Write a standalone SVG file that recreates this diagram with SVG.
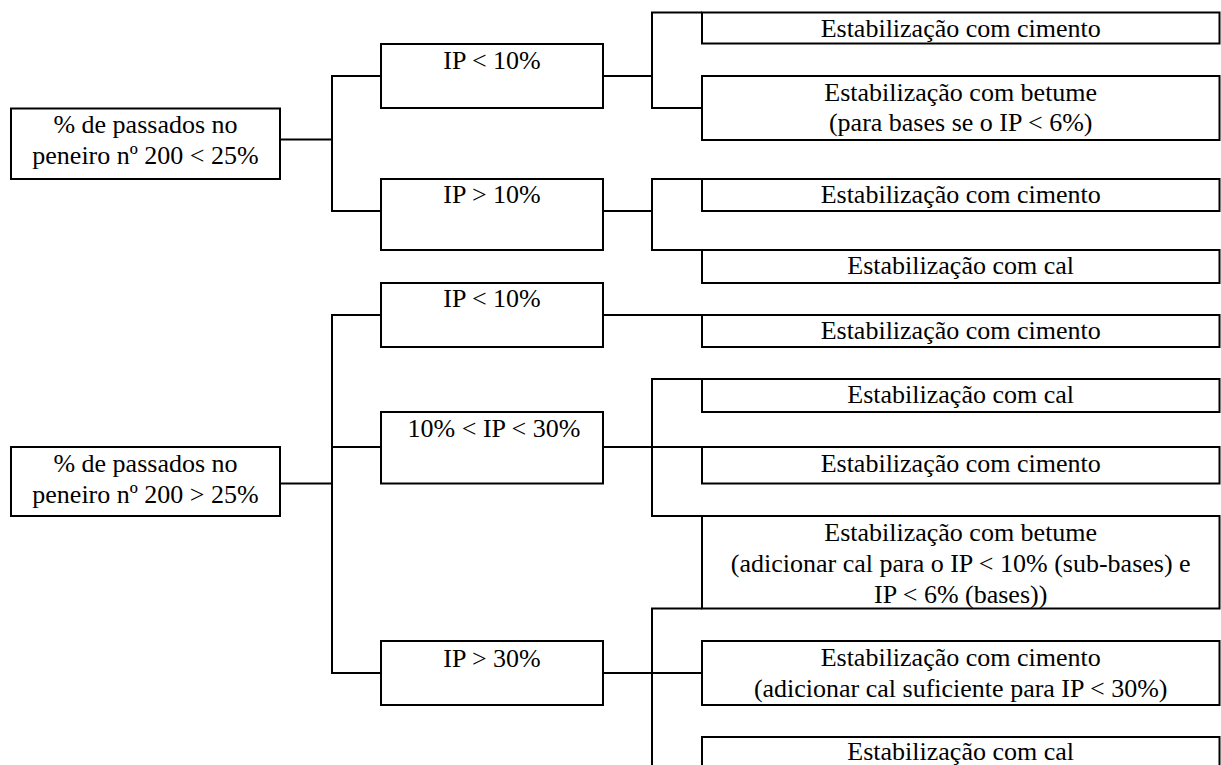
<svg xmlns="http://www.w3.org/2000/svg" width="1221" height="765" viewBox="0 0 1221 765" font-family="'Liberation Serif', 'Times New Roman', 'DejaVu Serif', serif">
<style>
rect{fill:#fff;stroke:#000;stroke-width:2}
line{stroke:#000;stroke-width:2}
text{font-family:'Liberation Serif','Times New Roman','DejaVu Serif',serif;font-size:26px;fill:#000;text-anchor:middle}
</style>
<rect x="0" y="0" width="1221" height="765" style="stroke:none"/>
<g id="connectors">
<line x1="280" y1="139.5" x2="332" y2="139.5"/>
<line x1="332" y1="75.5" x2="332" y2="211"/>
<line x1="331" y1="76" x2="381" y2="76"/>
<line x1="331" y1="211" x2="381" y2="211"/>
<line x1="603" y1="76" x2="652" y2="76"/>
<line x1="652" y1="12.5" x2="652" y2="108"/>
<line x1="651" y1="12.5" x2="702" y2="12.5"/>
<line x1="651" y1="108" x2="702" y2="108"/>
<line x1="603" y1="211" x2="652" y2="211"/>
<line x1="652" y1="179" x2="652" y2="250"/>
<line x1="651" y1="179" x2="702" y2="179"/>
<line x1="651" y1="250" x2="702" y2="250"/>
<line x1="280" y1="483.5" x2="332" y2="483.5"/>
<line x1="332" y1="314.5" x2="332" y2="673"/>
<line x1="331" y1="315" x2="381" y2="315"/>
<line x1="331" y1="447" x2="381" y2="447"/>
<line x1="331" y1="673" x2="381" y2="673"/>
<line x1="603" y1="315" x2="702" y2="315"/>
<line x1="603" y1="447" x2="702" y2="447"/>
<line x1="652" y1="379" x2="652" y2="516"/>
<line x1="651" y1="379" x2="702" y2="379"/>
<line x1="651" y1="516" x2="702" y2="516"/>
<line x1="603" y1="673" x2="702" y2="673"/>
<line x1="652" y1="608.5" x2="652" y2="770"/>
<line x1="651" y1="608.5" x2="702" y2="608.5"/>
</g>
<g id="root1"><rect x="11" y="108.5" width="269" height="70.5"/><text x="145.5" y="133">% de passados no</text><text x="145.5" y="164">peneiro nº 200 &lt; 25%</text></g>
<g id="ip1a"><rect x="381" y="44" width="222" height="64"/><text x="492" y="69">IP &lt; 10%</text></g>
<g id="ip1b"><rect x="381" y="179" width="222" height="71"/><text x="492" y="203">IP &gt; 10%</text></g>
<g id="r1"><rect x="702" y="12.5" width="517.5" height="31"/><text x="960.7" y="36.5">Estabilização com cimento</text></g>
<g id="r2"><rect x="702" y="76" width="517.5" height="64"/><text x="960.7" y="101">Estabilização com betume</text><text x="960.7" y="131">(para bases se o IP &lt; 6%)</text></g>
<g id="r3"><rect x="702" y="179" width="517.5" height="32"/><text x="960.7" y="203">Estabilização com cimento</text></g>
<g id="r4"><rect x="702" y="250" width="517.5" height="33"/><text x="960.7" y="274">Estabilização com cal</text></g>
<g id="root2"><rect x="11" y="447" width="269" height="69"/><text x="145.5" y="472">% de passados no</text><text x="145.5" y="503">peneiro nº 200 &gt; 25%</text></g>
<g id="ip2a"><rect x="381" y="283" width="222" height="64"/><text x="492" y="307">IP &lt; 10%</text></g>
<g id="ip2b"><rect x="381" y="412" width="222" height="71.5"/><text x="494" y="437">10% &lt; IP &lt; 30%</text></g>
<g id="ip2c"><rect x="381" y="641" width="222" height="64"/><text x="492" y="666.5">IP &gt; 30%</text></g>
<g id="r5"><rect x="702" y="315" width="517.5" height="32"/><text x="960.7" y="339">Estabilização com cimento</text></g>
<g id="r6"><rect x="702" y="379" width="517.5" height="33"/><text x="960.7" y="403">Estabilização com cal</text></g>
<g id="r7"><rect x="702" y="447" width="517.5" height="36.5"/><text x="960.7" y="471.5">Estabilização com cimento</text></g>
<g id="r8"><rect x="702" y="516" width="517.5" height="92.5"/><text x="960.7" y="541">Estabilização com betume</text><text x="960.7" y="572">(adicionar cal para o IP &lt; 10% (sub-bases) e</text><text x="960.7" y="602.5">IP &lt; 6% (bases))</text></g>
<g id="r9"><rect x="702" y="641" width="517.5" height="64"/><text x="960.7" y="666">Estabilização com cimento</text><text x="960.7" y="696.5">(adicionar cal suficiente para IP &lt; 30%)</text></g>
<g id="r10"><rect x="702" y="737" width="517.5" height="40"/><text x="960.7" y="760">Estabilização com cal</text></g>
</svg>
